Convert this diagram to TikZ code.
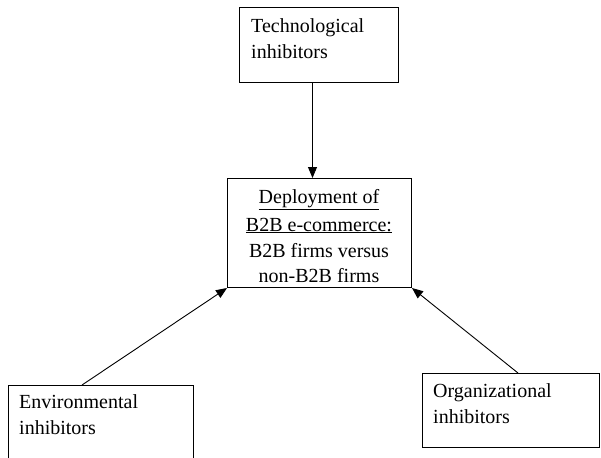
\documentclass[tikz,border=0pt]{standalone}
\usepackage{fontspec}
\setmainfont{Liberation Serif}
\usetikzlibrary{arrows.meta}
\begin{document}
\begin{tikzpicture}[x=1pt,y=-1pt,
  boxst/.style={draw=black,line width=1pt,rectangle,inner sep=0pt,anchor=north west},
  txt/.style={inner sep=0pt,font=\fontsize{20}{25}\selectfont},
  arr/.style={line width=0.9pt,-{Triangle[length=11pt,width=9pt]}}]
\useasboundingbox (0,0) rectangle (601,457);
\clip (0,0) rectangle (601,457);
\fill[white] (0,0) rectangle (601,457);
% boxes
\node[boxst,minimum width=159pt,minimum height=75pt] (tech) at (239,7) {};
\node[boxst,minimum width=184pt,minimum height=109pt] (dep) at (227,178) {};
\node[boxst,minimum width=185pt,minimum height=100pt] (env) at (8,385) {};
\node[boxst,minimum width=177pt,minimum height=74pt] (org) at (422,373) {};
% texts
\node[txt,anchor=base west] (t1) at (251,33) {Technological};
\node[txt,anchor=base west] (t2) at (251,59) {inhibitors};
\node[txt,anchor=base] (d1) at (319,203) {\underline{Deployment of}};
\node[txt,anchor=base] (d2) at (319,231) {\underline{B2B e-commerce:}};
\node[txt,anchor=base] (d3) at (319,257) {B2B firms versus};
\node[txt,anchor=base] (d4) at (319,282) {non-B2B firms};
\node[txt,anchor=base west] (e1) at (19,408) {Environmental};
\node[txt,anchor=base west] (e2) at (19,434) {inhibitors};
\node[txt,anchor=base west] (o1) at (433,397) {Organizational};
\node[txt,anchor=base west] (o2) at (433,423) {inhibitors};
% connector endpoints
\coordinate (ts) at ([xshift=-6.5pt]tech.south);
\coordinate (dn) at (ts |- dep.north);
\coordinate (es) at (82,385);
\coordinate (os) at (518,373);
\draw[arr] (ts) -- (dn);
\draw[arr] (es) -- (dep.south west);
\draw[arr] (os) -- (dep.south east);
\end{tikzpicture}
\end{document}
